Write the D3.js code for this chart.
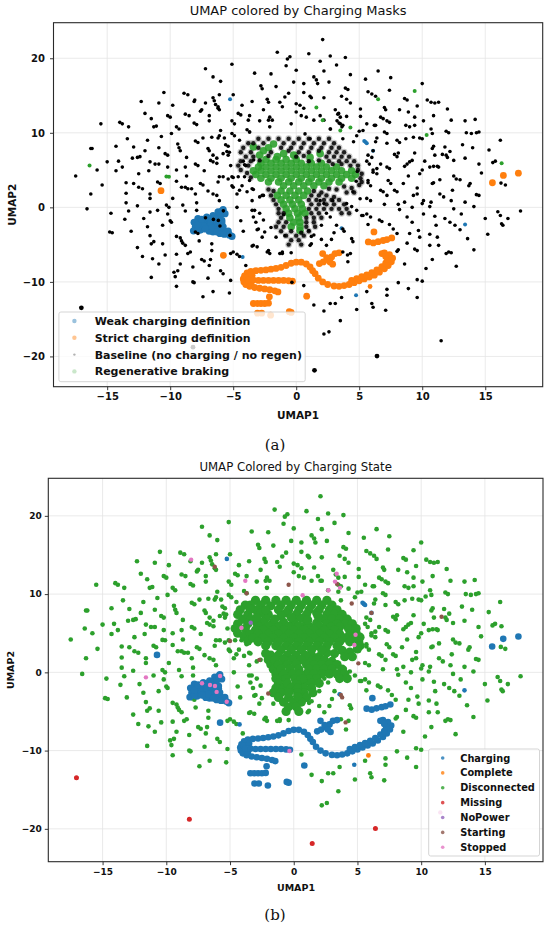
<!DOCTYPE html>
<html><head><meta charset="utf-8">
<script src="https://cdn.jsdelivr.net/npm/d3@7"></script>
<style>body{margin:0;background:#fff}svg{display:block}</style>
</head><body>
<svg id="c" width="550" height="930"></svg>
<script>
// ---------------- DATA (UMAP coordinates) ----------------
const xTicks = [-15, -10, -5, 0, 5, 10, 15];
const yTicks = [-20, -10, 0, 10, 20];
const topLegendLabels = ["Weak charging definition", "Strict charging definition", "Baseline (no charging / no regen)", "Regenerative braking"];
const bottomLegendLabels = ["Charging", "Complete", "Disconnected", "Missing", "NoPower", "Starting", "Stopped"];

// sparse baseline points (black in (a), Disconnected green in (b))
const sparsePts = [
[-1.5,20.8],[-5.1,19.2],[-7.2,18.6],[-6.6,17.5],[-6.0,16.9],[-3.3,18.0],[-2.0,17.9],[-2.8,16.3],[-2.7,15.9],[-1.6,16.2],[-10.5,15.4],[-8.9,15.3],[-8.6,15.1],[-12.3,14.2],[-10.9,14.0],[-9.8,13.7],[-8.1,14.2],[-7.2,14.0],[-6.6,14.7],[-6.5,14.3],[-6.4,13.8],[-6.2,13.3],[-6.1,13.1],[-6.1,15.1],[-5.0,15.1],[-4.3,13.7],[-3.5,14.2],[-2.3,14.5],[-2.2,14.1],[-2.6,13.1],[-1.1,13.5],[-15.5,11.2],[-13.3,10.8],[-11.5,11.9],[-11.3,10.8],[-11.1,10.9],[-8.8,12.5],[-8.5,12.3],[-8.1,11.3],[-7.9,11.1],[-6.9,12.3],[-6.9,11.6],[-9.5,10.8],[-9.3,10.5],[-5.1,11.6],[-4.9,11.2],[-3.9,10.4],[-3.7,10.1],[-6.0,10.3],[-2.9,11.6],[-2.2,11.7],[-2.1,10.8],
[-16.3,7.9],[-16.2,7.9],[-14.3,8.2],[-13.4,9.2],[-11.8,9.0],[-10.7,9.5],[-9.4,8.5],[-9.3,8.0],[-9.2,7.6],[-12.9,8.1],[-12.6,6.7],[-12.4,6.8],[-14.1,6.2],[-15.0,6.1],[-17.5,4.2],[-15.4,3.0],[-14.3,4.9],[-13.5,3.3],[-13.0,6.6],[-11.7,4.9],[-11.6,6.1],[-11.2,5.8],[-10.9,5.8],[-10.4,7.2],[-10.2,7.0],[-12.9,3.2],[-12.5,4.5],[-12.5,2.7],[-12.2,2.5],[-16.3,1.8],[-13.5,1.9],[-11.6,1.8],[-10.2,5.4],[-9.5,3.5],[-9.5,5.0],[-8.7,6.7],[-8.8,5.4],[-8.7,4.2],[-9.1,2.7],[-8.8,2.7],[-8.6,2.5],[-8.3,2.5],[-8.0,1.8],[-7.3,4.9],[-6.9,7.6],[-6.6,7.0],[-6.3,6.6],[-6.8,6.3],[-6.6,6.1],[-6.3,5.9],[-6.7,9.4],[-6.2,9.3],[-5.7,9.3],[-7.4,9.3],[-7.0,7.9],[-6.1,4.1],[-5.8,4.1],[-5.1,4.1],[-5.5,7.5],[-5.3,7.4],[-5.1,2.9],[-4.6,4.1],[-4.3,2.9],[-4.7,1.8],[-13.5,0.6],[-11.6,1.2],[-10.3,0.3],[-10.1,0.0],[-9.0,0.3],[-7.9,0.6],[-3.5,2.5],[-3.4,2.4],[-2.9,1.4],[-2.6,1.6],[-5.1,9.9],[-6.6,1.8],[-6.3,1.6],[-6.1,0.9],
[-14.0,11.4],[-13.8,11.2],[-12.0,12.6],[-10.2,12.3],[-10.0,12.1],[-7.6,12.9],[-7.5,13.1],[-4.6,12.6],[-4.4,12.4],[-5.6,8.4],[-5.4,8.2],[-8.0,8.9],[-7.8,8.7],[-10.9,8.0],[-12.0,7.6],[-13.8,5.4],[-15.8,5.0],[-11.0,3.4],[-10.8,3.2],[-7.6,3.2],[-7.4,3.0],[-6.2,3.4],[-8.0,5.8],[-7.8,5.6],[-9.9,9.9],[-4.2,6.2],[-4.0,5.6],[-5.2,5.6],[-7.0,2.2],[-9.8,1.2],[-12.6,0.2],
[2.1,22.5],[1.0,20.6],[-0.5,20.2],[-0.7,19.9],[1.9,19.6],[3.2,19.1],[0.0,18.4],[2.2,18.3],[4.3,17.8],[6.5,18.3],[1.4,17.5],[1.6,17.1],[1.7,16.6],[2.6,16.8],[5.5,17.2],[7.5,17.4],[10.0,16.6],[0.6,16.6],[-0.8,19.0],[5.7,15.5],[6.0,15.2],[6.3,14.9],[7.4,15.7],[-0.6,15.3],[-0.9,14.8],[0.6,15.4],[1.1,14.9],[1.2,14.7],[2.2,14.7],[4.0,14.5],[4.3,14.0],[10.4,14.4],[10.7,14.1],[11.0,14.0],[11.3,14.1],[5.1,13.2],[7.0,13.4],[7.1,13.1],[8.2,13.1],[8.9,12.8],[9.4,12.1],[10.9,12.3],[12.3,11.7],[13.4,11.6],[14.2,11.8],[-1.3,14.1],[0.0,13.9],[0.3,13.7],[0.6,13.3],[3.1,13.1],[3.3,12.5],[3.5,12.1],[4.0,12.2],[5.1,12.2],[1.4,11.7],[6.7,12.1],[6.9,11.9],[7.2,11.6],[7.4,11.4],[8.7,11.0],[9.0,10.8],[10.1,11.6],[9.4,11.0],[10.7,10.5],[10.8,9.9],[13.5,10.0],[13.9,9.9],[14.3,10.0],[14.5,10.1],[16.2,9.0],[5.3,10.3],[6.3,11.0],[2.7,10.5],[3.7,9.2],[5.0,10.2],[6.4,9.3],[7.2,8.6],[8.0,9.0],[8.2,8.7],[8.7,9.2],[9.3,9.4],[9.8,9.3],[10.0,9.2],[10.8,7.9],[10.9,8.2],[11.8,8.1],[11.9,7.0],[12.0,6.7],[12.2,7.5],[13.4,6.6],[14.5,5.8],[15.3,7.7],[16.6,3.0],[16.25,3.25],[14.7,4.6],[13.7,2.9],[13.8,3.2],[14.3,1.7],[12.5,6.3],[12.5,4.2],[12.7,3.8],[13.0,3.7],[11.4,3.7],[11.3,5.4],[10.6,5.4],[10.9,5.5],[11.2,5.5],[10.2,6.2],[9.4,7.3],[7.8,7.1],[8.0,6.8],[8.1,7.3],[8.6,5.5],[8.8,5.8],[8.9,4.2],[9.8,4.5],[10.0,5.0],[10.8,3.2],[10.9,3.3],[8.5,3.2],[6.7,5.8],[5.6,6.2],[5.8,5.8],[7.3,3.6],[7.5,3.2],[7.8,2.3],[8.0,2.1],[9.3,1.6],[9.6,1.8],[10.1,0.9],[10.0,0.5],[12.3,0.9],[13.4,0.7],[14.5,1.6],[11.4,1.8],[11.7,1.4],[5.7,3.3],[5.9,2.9],[6.1,4.7],[6.4,4.5],[7.2,5.4],[7.4,5.2],[6.7,2.3],[6.9,2.1],[7.2,1.6],[8.6,0.7],[9.2,0.0],[10.7,0.7],
[3.9,16.0],[4.1,15.8],[8.6,14.6],[8.8,14.4],[12.0,13.2],[9.6,13.6],[11.9,10.2],[12.1,10.0],[7.0,10.1],[7.2,9.9],[9.0,6.1],[9.2,6.3],[11.0,7.0],[13.2,8.4],[14.0,8.0],[15.8,6.2],[15.6,6.0],[12.4,2.3],[9.6,2.6],[7.0,0.4],[8.8,-1.3],[3.6,14.9],[-0.2,16.8],[2.7,20.3],[3.9,20.1],
[-3.7,12.3],[-2.1,12.1],[-1.9,11.7],[0.0,12.8],[0.4,12.3],[0.8,12.1],[1.9,12.3],[2.2,11.7],[5.6,11.2],[6.2,11.0],[-6.1,9.6],[-4.9,9.6],[-4.5,9.0],[-5.8,7.2],[-5.4,7.0],[-5.4,3.8],[-5.0,2.7],[-4.5,2.3],[-3.9,2.1],[-3.5,0.9],[-3.3,-0.4],[-2.9,-0.8],[-2.6,-1.7],[-3.0,-2.9],[-2.5,-3.3],[-1.6,-4.0],[1.0,-3.1],[1.4,-3.7],[3.2,-2.4],[2.4,-0.8],[2.7,-1.3],[1.9,0.9],[2.2,0.5],[2.9,0.9],[4.0,0.5],[4.4,0.1],[4.8,-0.4],[5.2,-1.1],[4.5,2.1],[5.6,1.2],[5.9,0.9],[5.7,3.6],[6.1,5.0],[6.4,5.2],[5.7,7.0],[6.0,6.7],[6.3,8.8],[4.8,9.6],[3.5,11.2],[3.7,11.0],[1.1,9.2],[-4.1,4.1],[-3.7,3.6],[-2.2,-5.8],[-2.1,-6.2],[-1.3,-6.2],[-0.4,-6.1],[2.4,-5.1],[3.7,-6.0],[1.1,-5.1],[-3.5,-5.2],
[-16.6,-0.2],[-14.7,-0.8],[-13.3,-0.5],[-14.8,-3.3],[-14.6,-3.4],[-13.1,-3.2],[-12.6,-5.4],[-11.6,-3.8],[-11.3,-4.6],[-11.5,-4.9],[-11.5,-9.4],[-11.4,-6.9],[-11.0,-0.4],[-10.6,-2.4],[-10.4,-6.4],[-10.6,-4.9],[-9.5,-3.9],[-9.2,-4.1],[-9.1,-4.5],[-9.0,-4.8],[-8.8,-5.1],[-9.5,-6.3],[-9.2,-7.6],[-9.7,-8.7],[-9.4,-8.5],[-9.6,-9.3],[-9.5,-10.6],[-8.2,-8.0],[-8.2,-10.0],[-8.1,-10.1],[-7.5,-7.0],[-7.3,-7.2],[-7.7,-4.5],[-6.7,-4.9],[-6.7,-5.8],[-7.4,-12.0],[-6.6,-11.3],[-6.0,-8.5],[-5.8,-8.9],[-5.3,-11.5],[-4.7,0.0],[-7.9,-0.4],[-8.8,-0.5],[-10.2,-0.9],[-8.0,-3.3],[-7.8,-3.5],[-6.9,-7.8],[-6.8,-7.0],[-3.5,-0.4],[-3.4,-1.3],[-3.2,-2.0],[-3.1,-3.0],[-2.7,-4.0],[-2.3,-6.0],[-1.1,-6.2],[-3.4,-5.1],[-3.1,-5.3],[-5.2,-6.2],[-5.0,-6.0],[-4.7,-6.3],[-4.5,-6.6],[-12.1,-1.5],[-11.8,-2.6],[-10.0,-1.8],[-9.9,-2.0],
[-13.6,-1.6],[-12.2,-6.6],[-10.9,-7.6],[-8.6,-6.2],[-8.4,-6.0],[-4.2,-3.2],[-4.4,-1.8],[-4.0,-7.8],[-5.2,-9.8],[-7.0,-9.5],
[1.2,-4.9],[1.2,-3.9],[2.0,-4.3],[2.8,-4.3],[4.4,-4.2],[4.5,-4.6],[4.3,-6.2],[4.1,-7.3],[5.7,-2.3],[5.3,-1.1],[5.6,-0.9],[5.9,-1.3],[7.4,-2.3],[7.7,-2.9],[8.0,-3.5],[8.0,-5.9],[8.1,-5.7],[8.8,-4.8],[9.2,-2.0],[9.7,-3.1],[9.8,-4.0],[10.6,-3.6],[10.6,-5.1],[11.2,-4.0],[11.1,-2.4],[11.3,-5.1],[11.9,-6.2],[12.1,-6.0],[12.3,-6.1],[11.8,-1.5],[12.2,-2.0],[12.6,-2.4],[13.0,-3.0],[12.7,-7.9],[14.1,-5.7],[15.0,-1.5],[16.0,-0.6],[16.2,-1.1],[16.3,-2.2],[16.4,-2.4],[16.8,-1.5],[17.8,-0.5],[14.1,0.1],[12.5,-0.2],[13.1,-0.9],[10.6,0.1],[11.0,-1.2],[10.1,-0.9],[9.6,-9.7],[10.0,-9.9],[10.3,-8.2],[9.6,-12.1],[8.9,-10.9],[8.1,-10.1],[7.2,-11.0],[7.2,-11.8],[7.1,-13.8],[6.0,-12.9],[6.1,-13.4],[5.6,-11.3],[4.8,-13.7],[3.6,-12.1],[3.1,-12.9],[2.7,-12.9],[2.2,-13.9],[3.5,-15.2],[2.6,-16.7],[2.2,-17.0],[1.4,-13.1],[0.6,-10.5],[-1.1,-6.0],[-0.9,-3.8],[8.1,0.4],[8.2,-0.3],[9.0,-3.5],[-1.0,-1.0],
[9.4,-5.6],[9.6,-5.8],[6.6,-1.7],[6.8,-1.9],[13.6,-4.2],[15.2,-3.6],[10.8,-7.0],[8.6,-7.6],[3.0,-3.4],[2.0,-2.4]
];
// sparse regenerative-braking points (green in both)
const regenSparsePts = [[-16.4,5.6],[-10.3,4.15],[-10.1,4.1],[6.5,14.5],[9.4,15.6],[1.6,13.4],[2.1,11.7],[4.3,10.7],[3.5,10.3],[10.35,9.7],[16.3,5.9],[0.35,-0.8]];
// dense central cluster: regenerative part
const coreRegenPts = [
[-2.4,6.4],[-1.6,6.4],[-0.8,6.4],[0.0,6.4],
[-2.8,5.9],[-2.0,5.9],[-1.2,5.9],[-0.4,5.9],[0.4,5.9],[1.2,5.9],[2.0,5.9],
[-3.0,5.4],[-2.4,5.4],[-1.6,5.4],[-0.8,5.4],[0.0,5.4],[0.8,5.4],[1.6,5.4],[2.4,5.4],[3.2,5.4],
[-3.4,4.9],[-2.8,4.9],[-2.0,4.9],[-1.2,4.9],[-0.4,4.9],[0.4,4.9],[1.2,4.9],[2.0,4.9],[2.8,4.9],[3.6,4.9],[4.4,4.9],
[-3.2,4.4],[-2.4,4.4],[-1.6,4.4],[-0.8,4.4],[0.0,4.4],[0.8,4.4],[1.6,4.4],[2.4,4.4],[3.2,4.4],[4.0,4.4],[4.7,4.4],
[-2.8,3.9],[-2.0,3.9],[-1.2,3.9],[-0.4,3.9],[0.4,3.9],[1.2,3.9],[2.0,3.9],[2.8,3.9],[3.6,3.9],[4.4,3.9],
[-2.2,3.4],[-1.4,3.4],[-0.6,3.4],[0.2,3.4],[1.0,3.4],[1.8,3.4],[2.6,3.4],[3.4,3.4],
[-1.0,2.9],[-0.2,2.9],[0.6,2.9],[1.4,2.9],[2.2,2.9],
[-3.4,8.1],[-2.6,7.6],[-1.8,8.5],[-1.0,7.2],[-0.2,7.0],[1.1,6.7],[1.9,7.2],[-2.9,7.0],[-1.5,6.8],[-2.2,8.0],
[-1.2,2.2],[-0.5,2.2],[0.2,2.2],[0.9,2.2],[-1.5,1.6],[-0.8,1.6],[-0.1,1.6],[0.6,1.6],[-1.2,1.0],[-0.5,1.0],[0.2,1.0],
[-1.0,0.4],[-0.3,0.4],[0.4,0.4],[-0.8,-0.2],[-0.1,-0.2],[0.5,-0.2],[-0.6,-0.8],[0.1,-0.8],[0.7,-0.8],[-0.5,-1.4],[0.2,-1.4],[-0.2,-2.0],[0.3,-2.0],[-0.4,-2.6],[0.3,-2.6],[0.3,-3.1]
];
// dense central cluster: baseline part
const coreBasePts = [
[-3.0,9.2],[-2.2,9.2],[-1.4,9.2],[-0.6,9.2],[0.2,9.2],[1.0,9.2],[1.8,9.2],[2.6,9.2],
[-3.8,8.6],[-3.4,8.6],[-2.6,8.6],[-1.0,8.6],[-0.2,8.6],[0.6,8.6],[1.4,8.6],[2.2,8.6],[3.0,8.6],
[-4.2,8.0],[-3.0,8.0],[-1.2,8.0],[-0.4,8.0],[0.4,8.0],[1.2,8.0],[2.0,8.0],[2.8,8.0],[3.4,8.0],
[-4.4,7.4],[-3.6,7.4],[-2.0,7.4],[-0.6,7.6],[0.2,7.4],[1.0,7.4],[1.8,7.6],[2.6,7.4],[3.2,7.4],[3.8,7.4],
[-4.0,6.8],[-3.4,6.8],[-2.2,6.9],[0.0,6.8],[0.6,6.9],[2.4,6.8],[3.0,6.8],[3.6,6.8],[4.2,6.8],
[-4.4,6.2],[-3.6,6.2],[-2.9,6.3],[1.0,6.2],[1.8,6.3],[2.6,6.2],[3.4,6.2],[4.0,6.2],[4.6,6.2],
[-4.6,5.6],[-3.8,5.6],[2.9,5.8],[3.6,5.8],[4.3,5.6],[4.9,5.6],
[-4.4,5.0],[-3.9,4.6],[4.9,5.0],[5.2,4.5],[5.1,3.9],[5.2,3.4],[-3.6,4.0],
[5.0,3.0],[4.4,2.6],[3.8,2.8],[3.2,2.4],[2.6,2.5],[4.6,2.0],[4.0,2.0],
[-1.8,2.2],[-2.2,2.4],[1.4,2.2],[2.0,2.0],[-2.0,1.6],[1.2,1.6],[1.8,1.6],[2.4,1.6],[3.0,1.4],
[-1.8,1.0],[1.0,1.0],[1.6,1.0],[2.2,1.0],[2.8,1.0],[3.4,1.0],[-1.6,0.4],[1.2,0.4],[1.8,0.4],[2.4,0.4],[3.0,0.4],[3.8,0.4],
[-1.4,-0.2],[1.0,-0.2],[1.6,-0.2],[2.2,-0.2],[2.8,-0.2],[3.4,-0.2],[4.0,-0.2],[-1.4,-0.8],[-1.0,-0.8],[1.2,-0.8],[1.8,-0.8],[3.6,-0.8],[4.2,-0.8],
[-1.2,-1.4],[0.8,-1.4],[1.4,-1.4],[2.0,-1.4],[-1.4,-2.0],[-0.8,-2.0],[0.8,-2.0],[1.4,-2.0],[-1.6,-2.6],[-1.0,-2.6],[0.8,-2.6],[1.5,-2.6],
[-1.2,-3.2],[-0.4,-3.2],[0.4,-3.4],[1.0,-3.2],[-0.8,-3.8],[0.0,-3.8],[0.6,-3.8],[-0.4,-4.4],[0.2,-4.4],[-0.6,-5.0],[0.4,-5.0]
];
// weak charging definition: blob and scattered points (blue)
const weakBlobPts = [
[-5.8,-0.3],[-6.2,-0.6],[-5.65,-0.85],[-6.6,-1.1],[-6.1,-1.2],[-7.1,-1.3],[-7.8,-1.5],[-8.1,-2.0],[-8.0,-2.6],[-8.15,-3.15],[-7.6,-3.05],[-7.0,-2.85],[-6.6,-3.3],[-6.05,-3.5],[-5.5,-3.5],[-5.1,-3.9],[-5.8,-2.6],[-5.9,-1.75],[-7.2,-2.0],[-6.8,-1.8],[-6.4,-1.6],[-6.2,-2.2],[-6.6,-2.4],[-7.0,-2.4],[-7.5,-2.2],[-7.6,-2.7],[-6.2,-2.9],[-5.8,-3.2],[-6.4,-3.0],[-5.9,-2.1],[-7.4,-1.7],[-6.9,-3.2],[-5.4,-3.2],
[-6.9,-1.5],[-7.4,-2.4],[-7.8,-2.9],[-6.8,-2.1],[-6.4,-2.6],[-6.0,-2.6],[-6.3,-1.9],[-6.0,-0.9],[-5.9,-0.5],[-6.7,-2.8],[-7.2,-2.9],[-5.7,-3.6],[-5.3,-3.7],[-6.3,-3.3],[-7.8,-2.3],[-7.5,-1.6]
];
const weakPts = [[5.4,8.9],[5.5,8.75],[5.6,8.6],[6.1,7.6],[4.75,-11.8],[3.6,-2.8],[13.4,-2.3],[-4.25,-6.65],[-5.25,14.5]];
// strict charging definition (orange curves)
const strictPts = [
[-3.6,-8.6],[-3.2,-8.5],[-2.8,-8.45],[-2.4,-8.4],[-2.0,-8.3],[-1.6,-8.2],[-1.2,-8.05],[-0.8,-7.8],[-0.4,-7.5],[0.0,-7.35],[0.4,-7.35],
[-3.9,-8.8],[-4.1,-9.2],[-4.2,-9.6],[-4.15,-10.0],[-4.0,-10.35],[-3.7,-10.6],[-3.9,-9.4],[-3.6,-10.2],[-3.5,-9.1],
[-3.3,-10.75],[-2.9,-10.85],[-2.5,-10.95],[-2.1,-11.05],[-1.7,-11.2],[-1.45,-11.35],
[-3.8,-9.75],[-3.4,-9.75],[-3.0,-9.8],[-2.6,-9.8],[-2.2,-9.8],[-1.8,-9.8],[-1.4,-9.8],[-1.0,-9.8],[-0.6,-9.85],[-0.3,-9.9],
[0.8,-7.6],[1.1,-8.0],[1.3,-8.5],[1.5,-8.9],[1.75,-9.5],[2.1,-10.0],[2.5,-10.35],[3.0,-10.55],[3.4,-10.6],[3.8,-10.5],[4.2,-10.35],[4.6,-10.1],[5.0,-9.85],[5.4,-9.6],[5.8,-9.35],[6.2,-9.1],[6.6,-8.7],[7.0,-8.25],[7.3,-7.8],[7.55,-7.3],[7.65,-6.8],[7.4,-6.35],[7.0,-6.1],[6.8,-6.2],
[4.4,-9.8],[4.8,-9.55],[5.2,-9.3],[5.6,-9.05],[6.0,-8.75],[6.4,-8.4],[6.8,-7.95],[7.1,-7.5],[7.25,-7.0],[7.1,-6.6],
[1.84,-7.54],[2.15,-7.32],[2.47,-7.01],[2.81,-6.65],[3.08,-6.2],[2.1,-6.2],[2.42,-6.74],[2.68,-7.32],[2.89,-7.63],[3.4,-6.1],
[5.72,-4.64],[6.12,-4.77],[6.5,-4.6],[6.9,-4.45],[7.2,-4.33],[7.58,-4.1],[6.17,-3.3],
[-3.4,-12.9],[-3.1,-12.9],[-2.8,-12.9],[-2.5,-12.9],[-2.2,-12.85],[-2.13,-12.0],[0.83,-11.91],
[-3.08,-14.2],[-2.74,-14.2],[-2.03,-14.46],[-0.55,-14.0],[-0.4,-14.1],
[-10.73,2.23],[15.57,3.3],[16.44,4.28],[17.63,4.59],[-5.78,-6.43]
];
const completePts = [[5.86,-10.62]];
const missingPts = [[-17.05,-13.48],[-8.19,-18.76],[1.45,-21.87],[6.41,-19.95]];
const startingPts = [[-6.2,13.5],[-3.7,10.1],[-0.4,11.2],[3.4,11.3],[4.55,8.8],[6.1,7.6],[-5.0,4.0],[-2.7,1.6],[5.07,1.15],[-2.0,-2.7],[3.7,-2.9],[3.8,-3.2],[11.6,7.1],[4.07,-6.4]];
const stoppedPts = [[-8.05,14.4],[-3.8,11.7],[0.7,9.85],[3.37,12.6],[3.24,11.6],[2.72,10.5],[3.63,10.8],[-4.1,5.7],[4.85,4.8],[4.76,3.5],[-11.6,-0.64],[-5.78,-0.47],[-6.57,-1.62],[-6.18,-1.75],[-6.05,-2.5],[-5.26,-3.76],[-7.2,-1.4],[11.5,-17.9],[-0.34,-10.06]];
const noPowerPts = [[-3.38,6.35]];

// ---------------- DRAWING ----------------
const COL = {blue:"#1f77b4", orange:"#ff7f0e", green:"#2ca02c", red:"#d62728", purple:"#9467bd", brown:"#8c564b", pink:"#e377c2", black:"#000"};
const xDomain = [-19.26, 19.56];
const svg = d3.select("#c");
const FONT = "DejaVu Sans, Verdana, sans-serif";

function panel(cfg) {
  const g = svg.append("g");
  const x = d3.scaleLinear().domain(xDomain).range([cfg.left, cfg.right]);
  const y = d3.scaleLinear().domain(cfg.yDomain).range([cfg.bottom, cfg.top]);
  const clipId = "clip" + cfg.id;
  svg.append("clipPath").attr("id", clipId).append("rect")
    .attr("x", cfg.left).attr("y", cfg.top).attr("width", cfg.right - cfg.left).attr("height", cfg.bottom - cfg.top);

  const grid = g.append("g").attr("stroke", "#e4e4e4").attr("stroke-width", 0.8);
  grid.selectAll("line.gx").data(xTicks).join("line").attr("class", "gx")
    .attr("x1", d => x(d)).attr("x2", d => x(d)).attr("y1", cfg.top).attr("y2", cfg.bottom);
  grid.selectAll("line.gy").data(yTicks).join("line").attr("class", "gy")
    .attr("y1", d => y(d)).attr("y2", d => y(d)).attr("x1", cfg.left).attr("x2", cfg.right);

  const pts = g.append("g").attr("clip-path", `url(#${clipId})`);
  cfg.layers.forEach(L => {
    pts.append("g").selectAll("circle").data(L.data).join("circle")
      .attr("cx", d => x(d[0])).attr("cy", d => y(d[1])).attr("r", L.r)
      .attr("fill", L.color).attr("fill-opacity", L.op == null ? 1 : L.op);
  });

  const xa = g.append("g").attr("transform", `translate(0,${cfg.bottom})`)
    .call(d3.axisBottom(x).tickValues(xTicks).tickSize(3.5).tickPadding(3).tickFormat(d3.format("d")));
  const ya = g.append("g").attr("transform", `translate(${cfg.left},0)`)
    .call(d3.axisLeft(y).tickValues(yTicks).tickSize(3.5).tickPadding(cfg.yPad).tickFormat(d3.format("d")));
  [xa, ya].forEach(a => {
    a.select(".domain").remove();
    a.selectAll("line").attr("stroke", "#222").attr("stroke-width", 0.9);
    a.selectAll("text").attr("font-family", FONT).attr("font-weight", "bold")
      .attr("font-size", cfg.tickFont).attr("fill", "#111");
  });

  g.append("rect").attr("x", cfg.left).attr("y", cfg.top)
    .attr("width", cfg.right - cfg.left).attr("height", cfg.bottom - cfg.top)
    .attr("fill", "none").attr("stroke", "#2a2a2a").attr("stroke-width", 1.1);

  g.append("text").attr("x", (cfg.left + cfg.right) / 2).attr("y", cfg.titleY)
    .attr("text-anchor", "middle").attr("font-family", FONT).attr("font-size", cfg.titleFont)
    .attr("fill", "#111").text(cfg.title);
  g.append("text").attr("x", cfg.xLabelX).attr("y", cfg.xLabelY)
    .attr("text-anchor", "middle").attr("font-family", FONT).attr("font-weight", "bold")
    .attr("font-size", cfg.labelFont).attr("fill", "#111").text("UMAP1");
  g.append("text").attr("transform", `translate(${cfg.yLabelX},${(cfg.top + cfg.bottom) / 2}) rotate(-90)`)
    .attr("text-anchor", "middle").attr("font-family", FONT).attr("font-weight", "bold")
    .attr("font-size", cfg.labelFont).attr("fill", "#111").text("UMAP2");

  const lg = cfg.legend;
  g.append("rect").attr("x", lg.x0).attr("y", lg.y0).attr("width", lg.x1 - lg.x0).attr("height", lg.y1 - lg.y0)
    .attr("rx", 2).attr("fill", "#fff").attr("fill-opacity", 0.8).attr("stroke", "#d0d0d0").attr("stroke-width", 0.9);
  const items = g.append("g").selectAll("g").data(lg.items).join("g")
    .attr("transform", (d, i) => `translate(0,${lg.firstY + i * lg.step})`);
  items.append("circle").attr("cx", lg.markerX).attr("cy", 0).attr("r", d => d.r)
    .attr("fill", d => d.color).attr("fill-opacity", d => d.op);
  items.append("text").attr("x", lg.textX).attr("y", lg.font * 0.36)
    .attr("font-family", FONT).attr("font-weight", "bold").attr("font-size", lg.font)
    .attr("fill", "#111").text(d => d.label);

  svg.append("text").attr("x", 275).attr("y", cfg.captionY).attr("text-anchor", "middle")
    .attr("font-family", "DejaVu Serif, Liberation Serif, serif").attr("font-size", 15)
    .attr("fill", "#111").text(cfg.caption);
}

// (a)
panel({
  id: "a", left: 53.5, right: 542.7, top: 22.7, bottom: 386.7, yDomain: [-24.06, 24.77],
  title: "UMAP colored by Charging Masks", titleY: 15, titleFont: 13,
  tickFont: 10, labelFont: 10.5, yPad: 5, xLabelX: 298, xLabelY: 419, yLabelX: 15.5,
  caption: "(a)", captionY: 450,
  layers: [
    {data: weakBlobPts, color: COL.blue, r: 3.6},
    {data: weakPts, color: COL.blue, r: 2.0},
    {data: strictPts, color: COL.orange, r: 3.4},
    {data: completePts, color: COL.orange, r: 2.4},
    {data: coreBasePts, color: "#666", r: 3.4, op: 0.35},
    {data: coreRegenPts, color: COL.green, r: 3.8, op: 0.9},
    {data: coreBasePts, color: COL.black, r: 2.2, op: 0.85},
    {data: sparsePts, color: COL.black, r: 1.8},
    {data: startingPts, color: COL.black, r: 1.8},
    {data: stoppedPts, color: COL.black, r: 1.8},
    {data: noPowerPts, color: COL.black, r: 1.8},
    {data: missingPts, color: COL.black, r: 2.4},
    {data: regenSparsePts, color: COL.green, r: 2.0}
  ],
  legend: {
    x0: 58.9, x1: 305.2, y0: 312, y1: 381.7, firstY: 321, step: 16.8, markerX: 74.4, textX: 94.7, font: 11,
    items: [
      {label: topLegendLabels[0], color: COL.blue, r: 2.2, op: 0.45},
      {label: topLegendLabels[1], color: COL.orange, r: 2.2, op: 0.45},
      {label: topLegendLabels[2], color: "#000", r: 1.2, op: 0.3},
      {label: topLegendLabels[3], color: COL.green, r: 2.2, op: 0.25}
    ]
  }
});

// (b)
panel({
  id: "b", left: 48.3, right: 543, top: 478.3, bottom: 861.7, yDomain: [-24.2, 24.8],
  title: "UMAP Colored by Charging State", titleY: 471, titleFont: 11.75,
  tickFont: 9, labelFont: 9.5, yPad: 3, xLabelX: 296, xLabelY: 891, yLabelX: 13.5,
  caption: "(b)", captionY: 920,
  layers: [
    {data: sparsePts, color: COL.green, r: 2.3},
    {data: coreBasePts, color: COL.green, r: 4.6},
    {data: coreRegenPts, color: COL.green, r: 4.6},
    {data: regenSparsePts, color: COL.green, r: 2.3},
    {data: weakBlobPts, color: COL.blue, r: 3.6},
    {data: weakPts, color: COL.blue, r: 2.3},
    {data: strictPts, color: COL.blue, r: 3.3},
    {data: completePts, color: COL.orange, r: 2.4},
    {data: missingPts, color: COL.red, r: 2.5},
    {data: noPowerPts, color: COL.purple, r: 2.2},
    {data: startingPts, color: COL.brown, r: 2.2},
    {data: stoppedPts, color: COL.pink, r: 2.2}
  ],
  legend: {
    x0: 428.7, x1: 539.5, y0: 749, y1: 856, firstY: 758, step: 14.88, markerX: 442.7, textX: 460.2, font: 9.8,
    items: [
      {label: bottomLegendLabels[0], color: COL.blue, r: 1.8, op: 0.8},
      {label: bottomLegendLabels[1], color: COL.orange, r: 1.8, op: 0.8},
      {label: bottomLegendLabels[2], color: COL.green, r: 1.8, op: 0.8},
      {label: bottomLegendLabels[3], color: COL.red, r: 1.8, op: 0.8},
      {label: bottomLegendLabels[4], color: COL.purple, r: 1.8, op: 0.8},
      {label: bottomLegendLabels[5], color: COL.brown, r: 1.8, op: 0.8},
      {label: bottomLegendLabels[6], color: COL.pink, r: 1.8, op: 0.8}
    ]
  }
});
</script>
</body></html>
